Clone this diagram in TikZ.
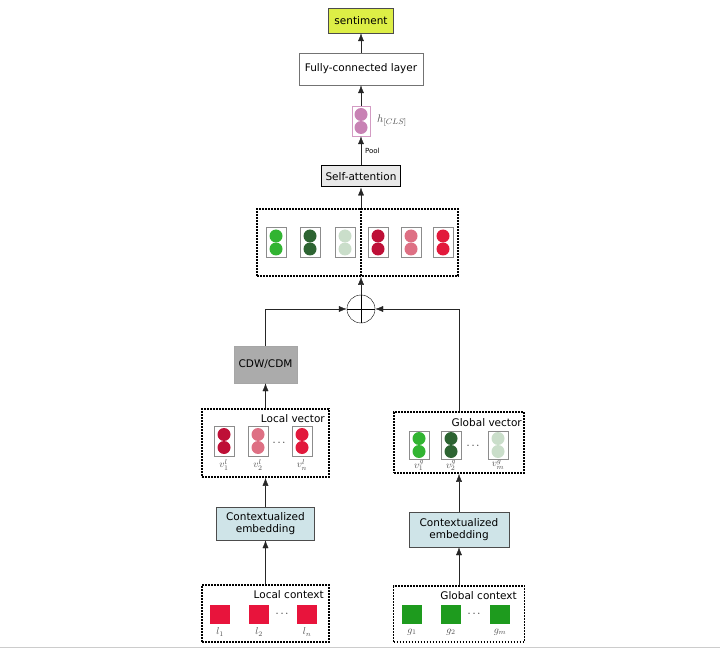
\documentclass[tikz,border=0pt]{standalone}
\usepackage{amsmath}
\usepackage{fontspec}
\setmainfont{DejaVu Sans}
\usetikzlibrary{arrows.meta}

\definecolor{gbright}{RGB}{50,180,50}
\definecolor{gdark}{RGB}{45,100,50}
\definecolor{gpale}{RGB}{202,222,202}
\definecolor{rcrimson}{RGB}{190,15,55}
\definecolor{rpink}{RGB}{222,112,132}
\definecolor{rred}{RGB}{226,25,60}
\definecolor{sqred}{RGB}{232,20,60}
\definecolor{sqgreen}{RGB}{30,155,30}
\definecolor{clsviolet}{RGB}{200,130,180}
\definecolor{sentyellow}{RGB}{221,238,70}
\definecolor{embblue}{RGB}{207,228,232}

\begin{document}
\begin{tikzpicture}[x=1pt, y=-1pt,
  every node/.style={inner sep=0pt, font=\fontsize{10.5}{12.5}\selectfont},
  box/.style={draw=black!70, rectangle},
  dotbox/.style={draw=black, line width=1.6pt, dash pattern=on 1.6pt off 1.4pt},
  vec/.style={draw=black!45, minimum width=20pt, minimum height=30pt},
  sq/.style={minimum width=20pt, minimum height=19pt},
  arr/.style={draw=black!85, -{Latex[length=8pt,width=6pt]}},
  lab/.style={text=black!70, font=\fontsize{10}{12}\selectfont}]
\useasboundingbox (0,0) rectangle (720,652);

% top part
\node[box, fill=sentyellow, minimum width=65pt, minimum height=25pt] (sent) at (361,20.5) {sentiment};
\node[box, draw=black!55, minimum width=124pt, minimum height=32pt] (fc) at (361,69) {Fully-connected layer};
\node[vec, draw=clsviolet!80, minimum width=18pt] (hcls) at (361,121) {};
\fill[clsviolet] ([yshift=6.5pt]hcls.center) circle (6.5pt);
\fill[clsviolet] ([yshift=-6.5pt]hcls.center) circle (6.5pt);
\node[lab, anchor=west, font=\fontsize{11}{13}\selectfont] (hlab) at (377,121) {$h_{[CLS]}$};
\node[box, draw=black, line width=1pt, fill=black!9, minimum width=79pt, minimum height=21pt] (selfatt) at (361,176.5) {Self-attention};

% concatenated vectors
\node[dotbox, minimum width=201pt, minimum height=67pt] (concat) at (357.5,242.5) {};
\foreach \nm/\xx/\col in {c1/276/gbright, c2/310/gdark, c3/345/gpale, c4/378/rcrimson, c5/411/rpink, c6/443/rred}{
  \node[vec] (\nm) at (\xx,242.5) {};
  \fill[\col] ([yshift=6.5pt]\nm.center) circle (6.5pt);
  \fill[\col] ([yshift=-6.5pt]\nm.center) circle (6.5pt);
}
\node[draw=black, circle, minimum size=28pt] (oplus) at (361,309) {};
\draw (oplus.north) -- (oplus.south);
\draw (oplus.west) -- (oplus.east);

% local branch
\node[box, draw=black!35, fill=black!33, minimum width=63pt, minimum height=37pt] (cdw) at (265.5,364.5) {CDW/CDM};
\node[dotbox, minimum width=127pt, minimum height=68pt] (lvec) at (265.5,443) {};
\node[anchor=east] (lvectxt) at (325,419) {Local vector};
\foreach \nm/\xx/\col/\txt in {lv1/224/rcrimson/v^l_1, lv2/258/rpink/v^l_2, lv3/302/rred/v^l_n}{
  \node[vec] (\nm) at (\xx,441) {};
  \fill[\col] ([yshift=6.5pt]\nm.center) circle (6.5pt);
  \fill[\col] ([yshift=-6.5pt]\nm.center) circle (6.5pt);
  \node[lab, anchor=north] at (\xx,459) {$\txt$};
}
\node (ldots1) at (280,443) {$\cdots$};
\node[box, fill=embblue, minimum width=98pt, minimum height=33pt, align=center] (lemb) at (265.5,523.5) {Contextualized\\embedding};
\node[dotbox, minimum width=127pt, minimum height=57pt] (lctx) at (265.5,613.5) {};
\node[anchor=east] (lctxtxt) at (324,595) {Local context};
\foreach \nm/\xx/\txt in {l1/220/l_1, l2/259/l_2, l3/307/l_n}{
  \node[sq, fill=sqred] (\nm) at (\xx,614.5) {};
  \node[lab] at (\xx,632) {$\txt$};
}
\node (ldots2) at (283,614) {$\cdots$};

% global branch
\node[dotbox, minimum width=130pt, minimum height=61pt] (gvec) at (459,442.5) {};
\node[anchor=east] (gvectxt) at (522,423) {Global vector};
\foreach \nm/\xx/\col/\txt in {gv1/419/gbright/v^g_1, gv2/451/gdark/v^g_2, gv3/498/gpale/v^g_m}{
  \node[vec, minimum height=28pt] (\nm) at (\xx,445) {};
  \fill[\col] ([yshift=6.5pt]\nm.center) circle (6.5pt);
  \fill[\col] ([yshift=-6.5pt]\nm.center) circle (6.5pt);
  \node[lab, anchor=north] at (\xx,460) {$\txt$};
}
\node (gdots1) at (474,446) {$\cdots$};
\node[box, fill=embblue, minimum width=100pt, minimum height=35pt, align=center] (gemb) at (459,529.5) {Contextualized\\embedding};
\node[dotbox, minimum width=131pt, minimum height=56pt] (gctx) at (459,614) {};
\node[anchor=east] (gctxtxt) at (517,596) {Global context};
\foreach \nm/\xx/\txt in {g1/412/g_1, g2/451/g_2, g3/500/g_m}{
  \node[sq, fill=sqgreen] (\nm) at (\xx,614.5) {};
  \node[lab] at (\xx,632) {$\txt$};
}
\node (gdots2) at (475,614) {$\cdots$};

% connectors
\draw[arr] (fc) -- (sent);
\draw[arr] (hcls) -- (fc);
\draw[arr] (selfatt) -- node[right=4pt, font=\fontsize{7}{8}\selectfont] {Pool} (hcls);
\draw[arr] (oplus |- concat.north) -- (selfatt);
\draw[line width=1.6pt, dash pattern=on 1.6pt off 1.4pt] (oplus |- concat.north) -- (oplus |- concat.south);
\draw[arr] (oplus) -- (oplus |- concat.south);
\draw[arr] (cdw.north) |- (oplus.west);
\draw[arr] (gvec.north) |- (oplus.east);
\draw[arr] (lvec) -- (cdw);
\draw[arr] (lemb) -- (lvec);
\draw[arr] (lctx) -- (lemb);
\draw[arr] (gemb) -- (gvec);
\draw[arr] (gctx) -- (gemb);
\draw[black!20] (0,647) -- (720,647);
\end{tikzpicture}
\end{document}
